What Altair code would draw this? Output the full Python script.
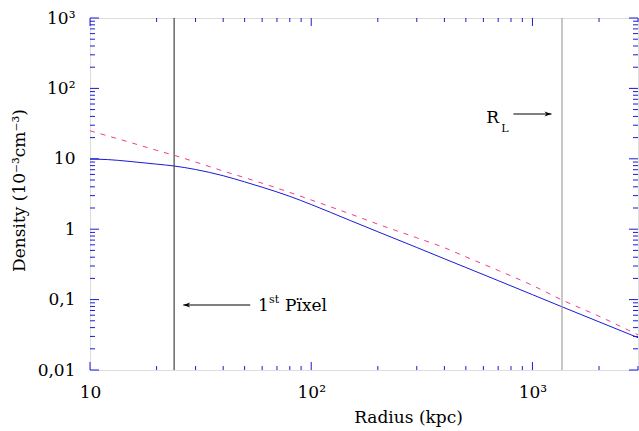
import altair as alt
import pandas as pd

# ---- data ----
radius = [10, 12, 15, 20, 24, 30, 40, 50, 60, 80, 100, 150, 200, 300, 400, 500, 700, 1000, 1360, 2000, 3000]
density_solid = [9.9, 9.75, 9.2, 8.4, 7.9, 7.05, 5.75, 4.7, 3.95, 2.93, 2.24, 1.33, 0.92, 0.55, 0.38, 0.286, 0.186, 0.1175, 0.079, 0.0483, 0.0288]
density_dashed = [25, 21.2, 17.3, 13.2, 11.2, 9.0, 6.7, 5.4, 4.5, 3.33, 2.6, 1.65, 1.18, 0.755, 0.546, 0.405, 0.26, 0.159, 0.099, 0.058, 0.0316]

first_pixel_r = 24
r_limit = 1360

x_major = [10, 100, 1000]
x_minor = [m * 10 for m in range(2, 10)] + [m * 100 for m in range(2, 10)] + [2000, 3000]
y_major = [0.01, 0.1, 1, 10, 100, 1000]
y_minor = [m * d for d in [0.01, 0.1, 1, 10, 100] for m in range(2, 10)]

# annotation anchors (data coordinates)
pix_arrow = {"r1": 26.4, "r2": 53, "n": 0.0838}
pix_text = {"r": 57.5, "n": 0.069}
rl_arrow = {"r1": 820, "r2": 1219, "n": 43.3}
rl_text = {"r": 619, "n": 32.3}

W, H = 548, 352
FONT = "DejaVu Serif"
BLUE = "#1a1ad8"

xs = alt.Scale(type="log", domain=[10, 3000], nice=False)
ys = alt.Scale(type="log", domain=[0.01, 1000], nice=False)

df = pd.DataFrame({"r": radius, "solid": density_solid, "dashed": density_dashed})

x_label_expr = "datum.value >= 999 ? '10³' : datum.value >= 99 ? '10²' : '10'"
y_label_expr = ("datum.value >= 999 ? '10³' : datum.value >= 99 ? '10²' : datum.value >= 9 ? '10' : "
                "datum.value >= 0.9 ? '1' : datum.value >= 0.09 ? '0,1' : '0,01'")

solid = alt.Chart(df).mark_line(color=BLUE, strokeWidth=1, clip=True, interpolate="monotone").encode(
    x=alt.X("r:Q", scale=xs, title="Radius (kpc)", axis=alt.Axis(
        values=x_major, labelExpr=x_label_expr, ticks=False, domain=False, grid=False,
        labelFlush=False, labelOverlap=False,
        labelFont=FONT, labelFontSize=17, labelColor="black", labelPadding=14,
        titleFont=FONT, titleFontSize=17, titleFontWeight="normal",
        titleColor="black", titleX=318, titleY=52, titleBaseline="alphabetic", titleAlign="center")),
    y=alt.Y("solid:Q", scale=ys, title="Density (10⁻³cm⁻³)", axis=alt.Axis(
        values=y_major, labelExpr=y_label_expr, ticks=False, domain=False, grid=False,
        labelFlush=False, labelOverlap=False,
        labelFont=FONT, labelFontSize=17, labelColor="black", labelPadding=15,
        titleFont=FONT, titleFontSize=17, titleFontWeight="normal",
        titleColor="black", titleX=-66, titleY=172, titleAngle=270, titleBaseline="alphabetic",
        titleAlign="center")),
)

dashed = alt.Chart(df).mark_line(color="#f03c8c", strokeWidth=1, strokeDash=[5, 6], clip=True,
                                 interpolate="monotone").encode(
    x=alt.X("r:Q", scale=xs),
    y=alt.Y("dashed:Q", scale=ys),
)

vline1 = alt.Chart(pd.DataFrame({"r": [first_pixel_r]})).mark_rule(color="#333333", strokeWidth=1.1).encode(
    x=alt.X("r:Q", scale=xs))
vline2 = alt.Chart(pd.DataFrame({"r": [r_limit]})).mark_rule(color="#999999", strokeWidth=1.1).encode(
    x=alt.X("r:Q", scale=xs))


def xticks(vals, y0, y1):
    return alt.Chart(pd.DataFrame({"r": vals})).mark_rule(color=BLUE, strokeWidth=1).encode(
        x=alt.X("r:Q", scale=xs), y=alt.value(y0), y2=alt.value(y1))


def yticks(vals, x0, x1):
    return alt.Chart(pd.DataFrame({"solid": vals})).mark_rule(color=BLUE, strokeWidth=1).encode(
        y=alt.Y("solid:Q", scale=ys), x=alt.value(x0), x2=alt.value(x1))


ticks = [
    xticks(x_major, H, H - 8), xticks(x_minor, H, H - 4),
    xticks(x_major, 0, 8), xticks(x_minor, 0, 4),
    yticks(y_major, 0, 9), yticks(y_minor, 0, 5),
    yticks(y_major, W, W - 9), yticks(y_minor, W, W - 5),
]

arrows_df = pd.DataFrame({
    "r": [pix_arrow["r1"], rl_arrow["r1"]],
    "r2": [pix_arrow["r2"], rl_arrow["r2"]],
    "solid": [pix_arrow["n"], rl_arrow["n"]],
})
arrow_lines = alt.Chart(arrows_df).mark_rule(color="black", strokeWidth=1.2).encode(
    x=alt.X("r:Q", scale=xs), x2="r2:Q", y=alt.Y("solid:Q", scale=ys))

head_left = alt.Chart(pd.DataFrame({"r": [pix_arrow["r1"]], "solid": [pix_arrow["n"]]})).mark_point(
    shape="M 0 0 L 2 -0.7 L 1.4 0 L 2 0.7 Z", size=49, filled=True, color="black", opacity=1).encode(
    x=alt.X("r:Q", scale=xs), y=alt.Y("solid:Q", scale=ys))
head_right = alt.Chart(pd.DataFrame({"r": [rl_arrow["r2"]], "solid": [rl_arrow["n"]]})).mark_point(
    shape="M 0 0 L -2 -0.7 L -1.4 0 L -2 0.7 Z", size=49, filled=True, color="black", opacity=1).encode(
    x=alt.X("r:Q", scale=xs), y=alt.Y("solid:Q", scale=ys))


def label(anchor, text, size, dx, dy):
    return alt.Chart(pd.DataFrame({"r": [anchor["r"]], "solid": [anchor["n"]], "t": [text]})).mark_text(
        font=FONT, fontSize=size, color="black", align="left", baseline="alphabetic", dx=dx, dy=dy).encode(
        x=alt.X("r:Q", scale=xs), y=alt.Y("solid:Q", scale=ys), text="t:N")


texts = [
    label(pix_text, "1", 17, 0, 0),
    label(pix_text, "st", 11, 11, -8),
    label(pix_text, "Pïxel", 17, 27, 0),
    label(rl_text, "R", 17, 0, 0),
    label(rl_text, "L", 11, 15, 9),
]

chart = alt.layer(
    solid, vline1, vline2, dashed, *ticks, arrow_lines, head_left, head_right, *texts
).properties(
    width=W, height=H,
    autosize=alt.AutoSizeParams(type="none"),
    padding={"left": 90, "top": 18, "right": 1, "bottom": 61},
).configure_view(stroke=BLUE, strokeWidth=1).configure(background="white")

chart.save("out.html", embed_options={"renderer": "svg", "actions": False})
